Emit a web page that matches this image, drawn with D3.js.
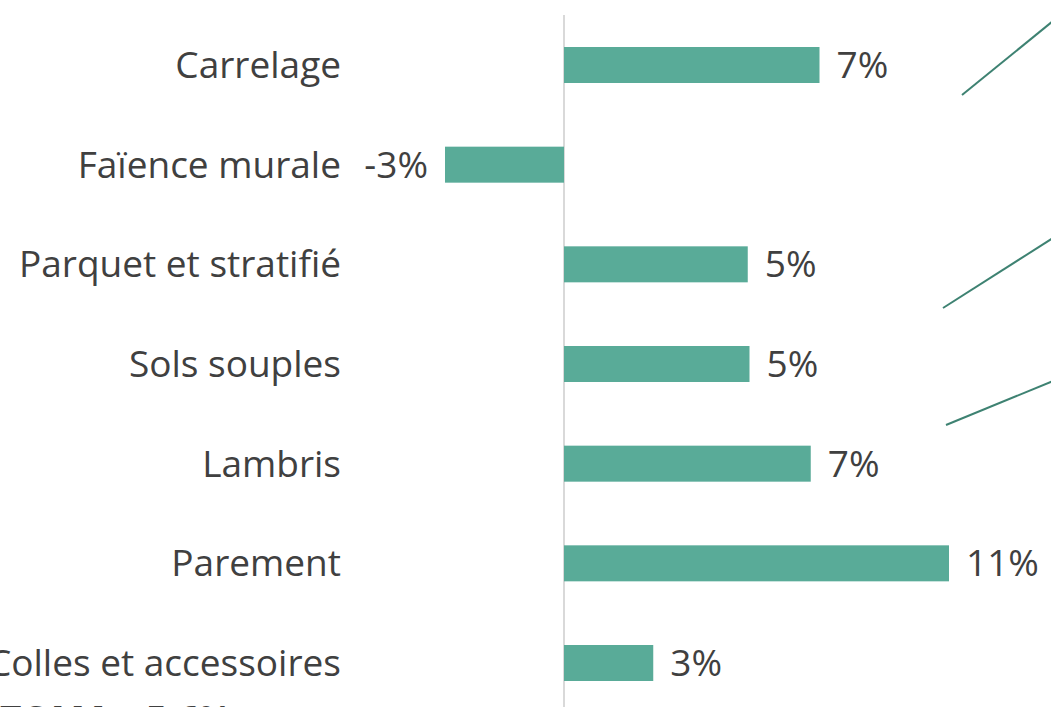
<!DOCTYPE html>
<html>
<head>
<meta charset="utf-8">
<script src="https://cdn.jsdelivr.net/npm/d3@7"></script>
<style>
  html, body { margin: 0; padding: 0; background: #ffffff; overflow: hidden; }
  svg { display: block; }
</style>
</head>
<body>
<svg id="chart" width="1051" height="707"></svg>
<script>
const categories = ["Carrelage", "Faïence murale", "Parquet et stratifié", "Sols souples", "Lambris", "Parement", "Colles et accessoires"];
const values = [7.3, -3.4, 5.25, 5.3, 7.05, 11.0, 2.55];
const valueLabels = ["7%", "-3%", "5%", "5%", "7%", "11%", "3%"];
const footnote = "TCAM = 5,6%";
// decorative connector lines partly visible at the right edge (pixel space)
const connectors = [
  [[962, 95], [1053, 21]],
  [[943, 308], [1053, 238]],
  [[946, 425], [1053, 381]]
];

const W = 1051, H = 707;
const svg = d3.select("#chart");
const font = "'Open Sans', sans-serif";
const textColor = "#404040";
const barColor = "#59AB98";
const fs = 37;

const x = d3.scaleLinear().domain([-4, 12]).range([424, 984]);
const y = d3.scalePoint().domain(categories).range([65, 663]);
const barH = 36;

// axis line
svg.append("line")
  .attr("x1", x(0)).attr("x2", x(0))
  .attr("y1", 15).attr("y2", H)
  .attr("stroke", "#d9d9d9").attr("stroke-width", 2);

// bars
svg.selectAll("rect.bar").data(categories).join("rect")
  .attr("class", "bar")
  .attr("x", (d, i) => Math.min(x(0), x(values[i])))
  .attr("width", (d, i) => Math.abs(x(values[i]) - x(0)))
  .attr("y", d => y(d) - barH / 2)
  .attr("height", barH)
  .attr("fill", barColor);

// category labels
svg.selectAll("text.cat").data(categories).join("text")
  .attr("class", "cat")
  .attr("x", 341)
  .attr("y", d => y(d))
  .attr("dy", "0.35em")
  .attr("text-anchor", "end")
  .attr("font-family", font)
  .attr("font-size", fs)
  .attr("fill", textColor)
  .text(d => d);

// value labels
svg.selectAll("text.val").data(categories).join("text")
  .attr("class", "val")
  .attr("x", (d, i) => values[i] >= 0 ? x(values[i]) + 17 : x(values[i]) - 17)
  .attr("y", d => y(d))
  .attr("dy", "0.35em")
  .attr("text-anchor", (d, i) => values[i] >= 0 ? "start" : "end")
  .attr("font-family", font)
  .attr("font-size", fs)
  .attr("fill", textColor)
  .text((d, i) => valueLabels[i]);

// connectors
svg.selectAll("line.conn").data(connectors).join("line")
  .attr("class", "conn")
  .attr("x1", d => d[0][0]).attr("y1", d => d[0][1])
  .attr("x2", d => d[1][0]).attr("y2", d => d[1][1])
  .attr("stroke", "#3E8272").attr("stroke-width", 2);

// footnote (cut off at bottom in the reference)
svg.append("text")
  .attr("x", 0).attr("y", 733)
  .attr("font-family", font)
  .attr("font-size", fs)
  .attr("font-weight", "bold")
  .attr("fill", textColor)
  .text(footnote);
</script>
</body>
</html>
